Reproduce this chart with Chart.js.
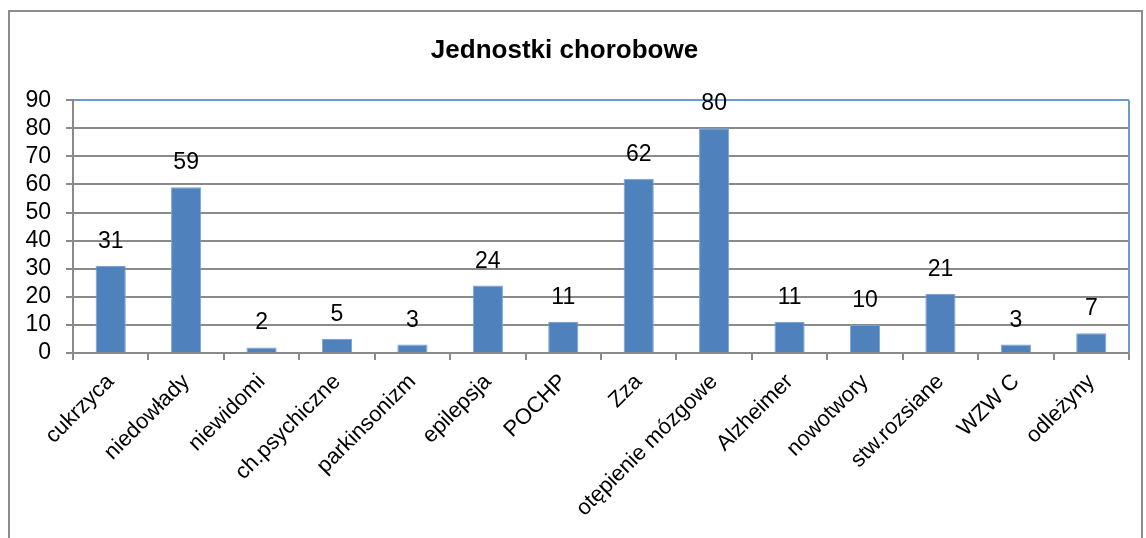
<!DOCTYPE html>
<html>
<head>
<meta charset="utf-8">
<script src="https://cdn.jsdelivr.net/npm/chart.js@4.4.1/dist/chart.umd.min.js"></script>
<style>
  html, body { margin: 0; padding: 0; background: #fff; }
  #wrap { position: relative; width: 1146px; height: 538px; overflow: hidden; }
  #frame { position: absolute; left: 8px; top: 10px; width: 1135px; height: 600px; border: 2px solid #8c8c8c; box-sizing: border-box; }
  #chart { position: absolute; left: 0; top: 0; }
</style>
</head>
<body>
<div id="wrap">
  <div id="frame"></div>
  <canvas id="chart" width="1146" height="538"></canvas>
</div>
<script>
const categories = ["cukrzyca", "niedowłady", "niewidomi", "ch.psychiczne", "parkinsonizm", "epilepsja", "POCHP", "Zza", "otępienie mózgowe", "Alzheimer", "nowotwory", "stw.rozsiane", "WZW C", "odleżyny"];
const counts = [31, 59, 2, 5, 3, 24, 11, 62, 80, 11, 10, 21, 3, 7];
const yMax = 90;
const yStep = 10;

const FONT = "'Liberation Sans Narrow', 'Arial Narrow', 'Liberation Sans', Arial, sans-serif";
const GRID = '#8a8a8a';
const EDGE = '#6b9bd2';

// value labels above bars
const valueLabels = {
    id: 'valueLabels',
    afterDatasetsDraw(chart) {
        const ctx = chart.ctx;
        const meta = chart.getDatasetMeta(0);
        ctx.save();
        ctx.font = '23px ' + FONT;
        ctx.fillStyle = '#000';
        ctx.textAlign = 'center';
        ctx.textBaseline = 'alphabetic';
        meta.data.forEach((bar, i) => {
            ctx.fillText(String(counts[i]), bar.x, bar.y - 18);
        });
        ctx.restore();
    }
};

// blue right edge of the plot area
const plotEdge = {
    id: 'plotEdge',
    afterDraw(chart) {
        const a = chart.chartArea;
        const ctx = chart.ctx;
        ctx.save();
        ctx.strokeStyle = EDGE;
        ctx.lineWidth = 2;
        ctx.beginPath();
        ctx.moveTo(a.right, a.top);
        ctx.lineTo(a.right, a.bottom);
        ctx.stroke();
        ctx.restore();
    }
};

new Chart(document.getElementById('chart').getContext('2d'), {
    type: 'bar',
    data: {
        labels: categories,
        datasets: [{
            data: counts,
            backgroundColor: '#4f81bd',
            borderColor: '#7aa3d4',
            borderWidth: 1,
            categoryPercentage: 0.8,
            barPercentage: 0.5
        }]
    },
    options: {
        responsive: false,
        animation: false,
        layout: { padding: { left: 0, right: 17, top: 0, bottom: 0 } },
        scales: {
            x: {
                grid: {
                    offset: true,
                    drawOnChartArea: false,
                    drawTicks: true,
                    tickLength: 7,
                    color: GRID,
                    lineWidth: 2
                },
                border: { color: GRID, width: 2 },
                ticks: {
                    color: '#000',
                    font: { family: FONT, size: 22 },
                    maxRotation: 45,
                    minRotation: 45,
                    autoSkip: false,
                    padding: 9
                },
                afterFit(scale) { scale.height = 185; }
            },
            y: {
                min: 0,
                max: yMax,
                ticks: {
                    stepSize: yStep,
                    autoSkip: false,
                    color: '#000',
                    font: { family: FONT, size: 23 },
                    padding: 15
                },
                grid: {
                    color: (c) => (c.tick && c.tick.value === yMax) ? EDGE : GRID,
                    tickColor: GRID,
                    lineWidth: 2,
                    tickLength: 7
                },
                border: { color: GRID, width: 2 },
                afterFit(scale) { scale.width = 73; }
            }
        },
        plugins: {
            legend: { display: false },
            tooltip: { enabled: false },
            title: {
                display: true,
                text: 'Jednostki chorobowe',
                color: '#000',
                font: { family: FONT, size: 26, weight: 'bold' },
                padding: { top: 35, bottom: 34 }
            }
        }
    },
    plugins: [valueLabels, plotEdge]
});
</script>
</body>
</html>
